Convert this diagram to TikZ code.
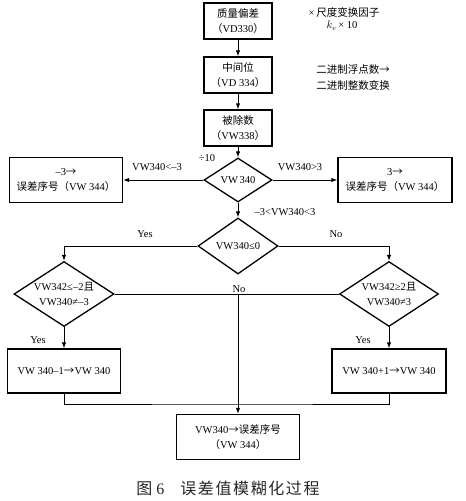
\documentclass[tikz,border=0pt]{standalone}
\usepackage{fontspec}
\setmainfont{Liberation Serif}
\newfontfamily\cjk{Noto Sans CJK SC}
\newfontfamily\cjkcap[LetterSpace=10]{Noto Sans CJK SC}
\newcommand{\zh}[1]{{\cjk #1}}
\usetikzlibrary{shapes.geometric,arrows.meta}

\begin{document}
\begin{tikzpicture}[x=1pt,y=-1pt]
\tikzstyle{every node}+=[font=\fontsize{10.5}{15}\selectfont]
\tikzstyle{proc}=[draw=black,line width=1.4pt,align=center,inner sep=0pt]
\tikzstyle{cond}=[draw=black,line width=1.3pt,shape=diamond,inner sep=0pt]
\tikzstyle{link}=[black,line width=0.9pt]
\tikzstyle{arr}=[link,-{Latex[length=6pt,width=4.5pt]}]
\tikzstyle{txt}=[align=center,inner sep=1pt]
\useasboundingbox (0,0) rectangle (466,501);
% main chain
\node[proc,minimum width=68pt,minimum height=36pt] (m1) at (238,21) {\zh{质量偏差}\\\zh{（}VD330\zh{）}};
\node[proc,minimum width=68pt,minimum height=36pt] (m2) at (238,75) {\zh{中间位}\\\zh{（}VD 334\zh{）}};
\node[proc,minimum width=68pt,minimum height=36pt] (m3) at (238,128) {\zh{被除数}\\\zh{（}VW338\zh{）}};
\node[txt] (f1) at (344,12) {×\,\zh{尺度变换因子}};
\node[txt] (f2) at (342,26) {$k_e$\,× 10};
\node[txt] (f3) at (353,70) {\zh{二进制浮点数→}};
\node[txt] (f4) at (353,85) {\zh{二进制整数变换}};
% first test
\node[cond,minimum width=68pt,minimum height=44pt,label={[align=center]center:VW\,340}] (d1) at (238,180) {};
\node[proc,minimum width=113pt,minimum height=45pt] (bl) at (66,180) {–3\zh{→}\\\zh{误差序号（}VW 344\zh{）}};
\node[proc,minimum width=114pt,minimum height=45pt] (br) at (395,180) {3\zh{→}\\\zh{误差序号（}VW 344\zh{）}};
\node[cond,minimum width=80pt,minimum height=56pt,label={[align=center]center:VW340≤0}] (d2) at (238,246) {};
% side tests
\node[cond,minimum width=100pt,minimum height=65pt,label={[align=center]center:VW342≤–2\zh{且}\\VW340≠–3}] (dl) at (64,294) {};
\node[cond,minimum width=99pt,minimum height=65pt,label={[align=center]center:VW342≥2\zh{且}\\VW340≠3}] (dr) at (389,294) {};
\node[proc,minimum width=113pt,minimum height=44pt] (sl) at (64,371) {VW 340–1\zh{→}VW 340};
\node[proc,minimum width=114pt,minimum height=44pt] (sr) at (389,371) {VW 340+1\zh{→}VW 340};
\node[proc,minimum width=123pt,minimum height=45pt] (fin) at (238,437) {VW340\zh{→误差序号}\\\zh{（}VW 344\zh{）}};
% labels
\node[txt] (l1) at (207,158) {÷10};
\node[txt] (l2) at (157,167) {VW340<–3};
\node[txt] (l3) at (300,167) {VW340>3};
\node[txt] (l4) at (285,212) {–3<VW340<3};
\node[txt] (l5) at (145,234) {Yes};
\node[txt] (l6) at (336,234) {No};
\node[txt] (l7) at (239,289) {No};
\node[txt] (l8) at (38,340) {Yes};
\node[txt] (l9) at (363,340) {Yes};
% connectors
\draw[arr] (m1) -- (m2);
\draw[arr] (m2) -- (m3);
\draw[arr] (m3) -- (d1);
\draw[arr] (d1) -- (bl);
\draw[arr] (d1) -- (br);
\draw[arr] (d1) -- (d2);
\draw[arr] (d2.west) -| (dl.north);
\draw[arr] (d2.east) -| (dr.north);
\draw[link] (dl) -- (dr);
\coordinate (jn) at (238,294);
\draw[arr] (jn) -- (fin);
\draw[arr] (dl) -- (sl);
\draw[arr] (dr) -- (sr);
\coordinate (mg) at (238,404);
\draw[link] (sl.south) |- (mg) -| (sr.south);
% caption
\node[font=\fontsize{16}{16}\selectfont,text=black!85] (cap) at (228,488) {{\cjkcap 图} 6\quad{\cjkcap 误差值模糊化过程}};
\end{tikzpicture}
\end{document}
